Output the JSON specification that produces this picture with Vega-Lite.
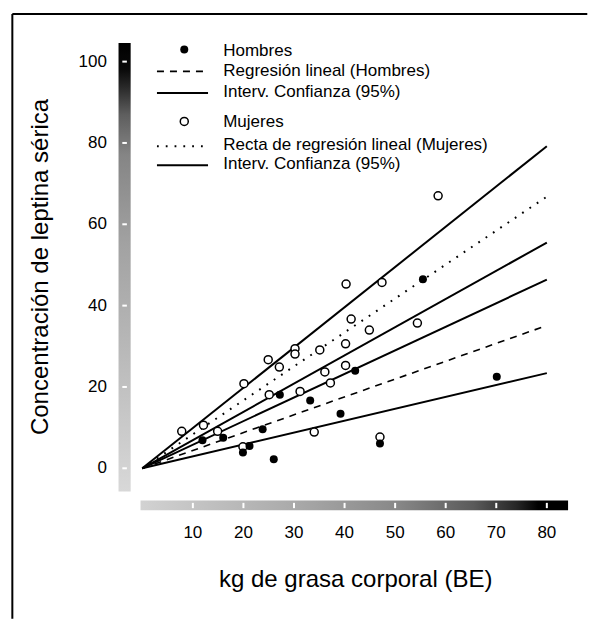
{
  "$schema": "https://vega.github.io/schema/vega-lite/v6.json",
  "width": 589,
  "height": 620,
  "autosize": {"type": "fit", "contains": "padding"},
  "padding": 0,
  "background": "white",
  "config": {"view": {"stroke": null}, "font": "Liberation Sans"},
  "datasets": {
    "pts": [
      {"sexo": "Hombres", "grasa": 11.9, "leptina": 6.9},
      {"sexo": "Hombres", "grasa": 16.0, "leptina": 7.5},
      {"sexo": "Hombres", "grasa": 19.9, "leptina": 3.9},
      {"sexo": "Hombres", "grasa": 21.2, "leptina": 5.5},
      {"sexo": "Hombres", "grasa": 23.8, "leptina": 9.6},
      {"sexo": "Hombres", "grasa": 26.0, "leptina": 2.2},
      {"sexo": "Hombres", "grasa": 27.2, "leptina": 18.1},
      {"sexo": "Hombres", "grasa": 33.2, "leptina": 16.7},
      {"sexo": "Hombres", "grasa": 39.2, "leptina": 13.4},
      {"sexo": "Hombres", "grasa": 42.1, "leptina": 24.0},
      {"sexo": "Hombres", "grasa": 47.0, "leptina": 6.1},
      {"sexo": "Hombres", "grasa": 55.5, "leptina": 46.5},
      {"sexo": "Hombres", "grasa": 70.1, "leptina": 22.5},
      {"sexo": "Mujeres", "grasa": 7.8, "leptina": 9.1},
      {"sexo": "Mujeres", "grasa": 12.1, "leptina": 10.6},
      {"sexo": "Mujeres", "grasa": 14.9, "leptina": 9.1},
      {"sexo": "Mujeres", "grasa": 19.9, "leptina": 5.3},
      {"sexo": "Mujeres", "grasa": 20.1, "leptina": 20.8},
      {"sexo": "Mujeres", "grasa": 24.9, "leptina": 26.7},
      {"sexo": "Mujeres", "grasa": 25.1, "leptina": 18.1},
      {"sexo": "Mujeres", "grasa": 27.1, "leptina": 24.9},
      {"sexo": "Mujeres", "grasa": 30.2, "leptina": 29.4},
      {"sexo": "Mujeres", "grasa": 30.2, "leptina": 28.1},
      {"sexo": "Mujeres", "grasa": 31.2, "leptina": 18.9},
      {"sexo": "Mujeres", "grasa": 34.0, "leptina": 8.9},
      {"sexo": "Mujeres", "grasa": 35.1, "leptina": 29.1},
      {"sexo": "Mujeres", "grasa": 36.1, "leptina": 23.7},
      {"sexo": "Mujeres", "grasa": 37.2, "leptina": 21.0},
      {"sexo": "Mujeres", "grasa": 40.3, "leptina": 45.3},
      {"sexo": "Mujeres", "grasa": 40.2, "leptina": 30.6},
      {"sexo": "Mujeres", "grasa": 40.2, "leptina": 25.3},
      {"sexo": "Mujeres", "grasa": 41.3, "leptina": 36.7},
      {"sexo": "Mujeres", "grasa": 44.9, "leptina": 34.0},
      {"sexo": "Mujeres", "grasa": 47.0, "leptina": 7.7},
      {"sexo": "Mujeres", "grasa": 47.4, "leptina": 45.7},
      {"sexo": "Mujeres", "grasa": 54.4, "leptina": 35.7},
      {"sexo": "Mujeres", "grasa": 58.5, "leptina": 67.0},
      {"sexo": "Hombres", "grasa": 8.3, "leptina": 103.0, "leyenda": true},
      {"sexo": "Mujeres", "grasa": 8.3, "leptina": 85.3, "leyenda": true}
    ],
    "lines": [
      {"serie": "IC Mujeres sup", "tipo": "solid", "x1": 0, "y1": 0, "x2": 80, "y2": 79.2},
      {"serie": "Regresión Mujeres", "tipo": "dotted", "x1": 0, "y1": 0, "x2": 80, "y2": 66.8},
      {"serie": "IC Mujeres inf", "tipo": "solid", "x1": 0, "y1": 0, "x2": 80, "y2": 55.5},
      {"serie": "IC Hombres sup", "tipo": "solid", "x1": 0, "y1": 0, "x2": 80, "y2": 46.4},
      {"serie": "Regresión Hombres", "tipo": "dashed", "x1": 0, "y1": 0, "x2": 80, "y2": 35.1},
      {"serie": "IC Hombres inf", "tipo": "solid", "x1": 0, "y1": 0, "x2": 80, "y2": 23.4},
      {"serie": "ley dashed", "tipo": "dashed", "x1": 2.9, "y1": 97.6, "x2": 13.0, "y2": 97.6},
      {"serie": "ley solid 1", "tipo": "solid", "x1": 2.9, "y1": 92.3, "x2": 13.0, "y2": 92.3},
      {"serie": "ley dotted", "tipo": "dotted", "x1": 2.9, "y1": 79.2, "x2": 13.0, "y2": 79.2},
      {"serie": "ley solid 2", "tipo": "solid", "x1": 2.9, "y1": 74.5, "x2": 13.0, "y2": 74.5}
    ],
    "frame": [
      {"lado": "izq", "x1": -25.7, "y1": 111.7, "x2": -25.7, "y2": -37},
      {"lado": "sup", "x1": -25.7, "y1": 111.7, "x2": 88, "y2": 111.7}
    ],
    "bars": [
      {"eje": "y", "x1": -4.7, "x2": -2.3, "y1": -5.7, "y2": 104.6},
      {"eje": "x", "x1": -0.35, "x2": 84.2, "y1": -7.9, "y2": -10.3}
    ],
    "bticks": [
      {"x1": -3.95, "x2": -3.05, "y1": 0, "y2": 0},
      {"x1": -3.95, "x2": -3.05, "y1": 20, "y2": 20},
      {"x1": -3.95, "x2": -3.05, "y1": 40, "y2": 40},
      {"x1": -3.95, "x2": -3.05, "y1": 60, "y2": 60},
      {"x1": -3.95, "x2": -3.05, "y1": 80, "y2": 80},
      {"x1": -3.95, "x2": -3.05, "y1": 100, "y2": 100},
      {"x1": 10, "x2": 10, "y1": -8.5, "y2": -9.8},
      {"x1": 20, "x2": 20, "y1": -8.5, "y2": -9.8},
      {"x1": 30, "x2": 30, "y1": -8.5, "y2": -9.8},
      {"x1": 40, "x2": 40, "y1": -8.5, "y2": -9.8},
      {"x1": 50, "x2": 50, "y1": -8.5, "y2": -9.8},
      {"x1": 60, "x2": 60, "y1": -8.5, "y2": -9.8},
      {"x1": 70, "x2": 70, "y1": -8.5, "y2": -9.8},
      {"x1": 80, "x2": 80, "y1": -8.5, "y2": -9.8}
    ],
    "ylabels": [
      {"v": 0, "t": "0"}, {"v": 20, "t": "20"}, {"v": 40, "t": "40"},
      {"v": 60, "t": "60"}, {"v": 80, "t": "80"}, {"v": 100, "t": "100"}
    ],
    "xlabels": [
      {"v": 10, "t": "10"}, {"v": 20, "t": "20"}, {"v": 30, "t": "30"}, {"v": 40, "t": "40"},
      {"v": 50, "t": "50"}, {"v": 60, "t": "60"}, {"v": 70, "t": "70"}, {"v": 80, "t": "80"}
    ],
    "legend": [
      {"x": 16.0, "y": 102.7, "t": "Hombres"},
      {"x": 16.0, "y": 97.8, "t": "Regresión lineal (Hombres)"},
      {"x": 16.0, "y": 92.6, "t": "Interv. Confianza (95%)"},
      {"x": 16.0, "y": 85.2, "t": "Mujeres"},
      {"x": 16.0, "y": 79.6, "t": "Recta de regresión lineal (Mujeres)"},
      {"x": 16.0, "y": 74.8, "t": "Interv. Confianza (95%)"}
    ],
    "titles": [
      {"x": 42.2, "y": -27.4, "t": "kg de grasa corporal (BE)", "eje": "x"},
      {"x": -20.0, "y": 49.5, "t": "Concentración de leptina sérica", "eje": "y"}
    ]
  },
  "layer": [
    {
      "data": {"name": "frame"},
      "mark": {"type": "rule", "color": "black", "strokeWidth": 2},
      "encoding": {
        "x": {"field": "x1", "type": "quantitative", "scale": {"domain": [-28.14, 87.35], "nice": false, "zero": false}, "axis": null},
        "y": {"field": "y1", "type": "quantitative", "scale": {"domain": [-36.81, 115.15], "nice": false, "zero": false}, "axis": null},
        "x2": {"field": "x2"},
        "y2": {"field": "y2"}
      }
    },
    {
      "data": {"name": "bars"},
      "transform": [{"filter": "datum.eje === 'y'"}],
      "mark": {"type": "rect", "color": {"gradient": "linear", "x1": 0, "y1": 1, "x2": 0, "y2": 0,
        "stops": [
          {"offset": 0, "color": "#d8d8d8"},
          {"offset": 0.3, "color": "#bababa"},
          {"offset": 0.55, "color": "#a2a2a2"},
          {"offset": 0.75, "color": "#858585"},
          {"offset": 0.84, "color": "#5e5e5e"},
          {"offset": 0.9, "color": "#2a2a2a"},
          {"offset": 0.94, "color": "#0a0a0a"},
          {"offset": 1, "color": "#000000"}]}},
      "encoding": {
        "x": {"field": "x1", "type": "quantitative", "scale": {"domain": [-28.14, 87.35], "nice": false, "zero": false}, "axis": null},
        "y": {"field": "y1", "type": "quantitative", "scale": {"domain": [-36.81, 115.15], "nice": false, "zero": false}, "axis": null},
        "x2": {"field": "x2"},
        "y2": {"field": "y2"}
      }
    },
    {
      "data": {"name": "bars"},
      "transform": [{"filter": "datum.eje === 'x'"}],
      "mark": {"type": "rect", "color": {"gradient": "linear", "x1": 0, "y1": 0, "x2": 1, "y2": 0,
        "stops": [
          {"offset": 0, "color": "#d2d2d2"},
          {"offset": 0.35, "color": "#ababab"},
          {"offset": 0.6, "color": "#888888"},
          {"offset": 0.78, "color": "#5a5a5a"},
          {"offset": 0.88, "color": "#262626"},
          {"offset": 0.93, "color": "#000000"},
          {"offset": 1, "color": "#000000"}]}},
      "encoding": {
        "x": {"field": "x1", "type": "quantitative", "scale": {"domain": [-28.14, 87.35], "nice": false, "zero": false}, "axis": null},
        "y": {"field": "y1", "type": "quantitative", "scale": {"domain": [-36.81, 115.15], "nice": false, "zero": false}, "axis": null},
        "x2": {"field": "x2"},
        "y2": {"field": "y2"}
      }
    },
    {
      "data": {"name": "bticks"},
      "mark": {"type": "rule", "color": "white", "strokeWidth": 2},
      "encoding": {
        "x": {"field": "x1", "type": "quantitative", "scale": {"domain": [-28.14, 87.35], "nice": false, "zero": false}, "axis": null},
        "y": {"field": "y1", "type": "quantitative", "scale": {"domain": [-36.81, 115.15], "nice": false, "zero": false}, "axis": null},
        "x2": {"field": "x2"},
        "y2": {"field": "y2"}
      }
    },
    {
      "data": {"name": "lines"},
      "transform": [{"filter": "datum.tipo === 'solid'"}],
      "mark": {"type": "rule", "color": "black", "strokeWidth": 2},
      "encoding": {
        "x": {"field": "x1", "type": "quantitative", "scale": {"domain": [-28.14, 87.35], "nice": false, "zero": false}, "axis": null},
        "y": {"field": "y1", "type": "quantitative", "scale": {"domain": [-36.81, 115.15], "nice": false, "zero": false}, "axis": null},
        "x2": {"field": "x2"},
        "y2": {"field": "y2"}
      }
    },
    {
      "data": {"name": "lines"},
      "transform": [{"filter": "datum.tipo === 'dashed'"}],
      "mark": {"type": "rule", "color": "black", "strokeWidth": 1.6, "strokeDash": [7, 6]},
      "encoding": {
        "x": {"field": "x1", "type": "quantitative", "scale": {"domain": [-28.14, 87.35], "nice": false, "zero": false}, "axis": null},
        "y": {"field": "y1", "type": "quantitative", "scale": {"domain": [-36.81, 115.15], "nice": false, "zero": false}, "axis": null},
        "x2": {"field": "x2"},
        "y2": {"field": "y2"}
      }
    },
    {
      "data": {"name": "lines"},
      "transform": [{"filter": "datum.tipo === 'dotted'"}],
      "mark": {"type": "rule", "color": "black", "strokeWidth": 2, "strokeDash": [1.8, 7], "strokeCap": "butt"},
      "encoding": {
        "x": {"field": "x1", "type": "quantitative", "scale": {"domain": [-28.14, 87.35], "nice": false, "zero": false}, "axis": null},
        "y": {"field": "y1", "type": "quantitative", "scale": {"domain": [-36.81, 115.15], "nice": false, "zero": false}, "axis": null},
        "x2": {"field": "x2"},
        "y2": {"field": "y2"}
      }
    },
    {
      "data": {"name": "pts"},
      "transform": [{"filter": "datum.sexo === 'Mujeres'"}],
      "mark": {"type": "point", "shape": "circle", "filled": true, "fill": "white", "stroke": "black", "strokeWidth": 1.5, "size": 64, "opacity": 1},
      "encoding": {
        "x": {"field": "grasa", "type": "quantitative", "scale": {"domain": [-28.14, 87.35], "nice": false, "zero": false}, "axis": null},
        "y": {"field": "leptina", "type": "quantitative", "scale": {"domain": [-36.81, 115.15], "nice": false, "zero": false}, "axis": null}
      }
    },
    {
      "data": {"name": "pts"},
      "transform": [{"filter": "datum.sexo === 'Hombres'"}],
      "mark": {"type": "point", "shape": "circle", "filled": true, "color": "black", "size": 64, "opacity": 1},
      "encoding": {
        "x": {"field": "grasa", "type": "quantitative", "scale": {"domain": [-28.14, 87.35], "nice": false, "zero": false}, "axis": null},
        "y": {"field": "leptina", "type": "quantitative", "scale": {"domain": [-36.81, 115.15], "nice": false, "zero": false}, "axis": null}
      }
    },
    {
      "data": {"name": "ylabels"},
      "mark": {"type": "text", "align": "right", "baseline": "middle", "fontSize": 17, "color": "black"},
      "encoding": {
        "x": {"datum": -7.0, "type": "quantitative", "scale": {"domain": [-28.14, 87.35], "nice": false, "zero": false}, "axis": null},
        "y": {"field": "v", "type": "quantitative", "scale": {"domain": [-36.81, 115.15], "nice": false, "zero": false}, "axis": null},
        "text": {"field": "t"}
      }
    },
    {
      "data": {"name": "xlabels"},
      "mark": {"type": "text", "align": "center", "baseline": "middle", "fontSize": 17, "color": "black"},
      "encoding": {
        "x": {"field": "v", "type": "quantitative", "scale": {"domain": [-28.14, 87.35], "nice": false, "zero": false}, "axis": null},
        "y": {"datum": -16.0, "type": "quantitative", "scale": {"domain": [-36.81, 115.15], "nice": false, "zero": false}, "axis": null},
        "text": {"field": "t"}
      }
    },
    {
      "data": {"name": "legend"},
      "mark": {"type": "text", "align": "left", "baseline": "middle", "fontSize": 17, "color": "black"},
      "encoding": {
        "x": {"field": "x", "type": "quantitative", "scale": {"domain": [-28.14, 87.35], "nice": false, "zero": false}, "axis": null},
        "y": {"field": "y", "type": "quantitative", "scale": {"domain": [-36.81, 115.15], "nice": false, "zero": false}, "axis": null},
        "text": {"field": "t"}
      }
    },
    {
      "data": {"name": "titles"},
      "transform": [{"filter": "datum.eje === 'x'"}],
      "mark": {"type": "text", "align": "center", "baseline": "middle", "fontSize": 24, "color": "black"},
      "encoding": {
        "x": {"field": "x", "type": "quantitative", "scale": {"domain": [-28.14, 87.35], "nice": false, "zero": false}, "axis": null},
        "y": {"field": "y", "type": "quantitative", "scale": {"domain": [-36.81, 115.15], "nice": false, "zero": false}, "axis": null},
        "text": {"field": "t"}
      }
    },
    {
      "data": {"name": "titles"},
      "transform": [{"filter": "datum.eje === 'y'"}],
      "mark": {"type": "text", "align": "center", "baseline": "middle", "fontSize": 24, "angle": 270, "color": "black"},
      "encoding": {
        "x": {"field": "x", "type": "quantitative", "scale": {"domain": [-28.14, 87.35], "nice": false, "zero": false}, "axis": null},
        "y": {"field": "y", "type": "quantitative", "scale": {"domain": [-36.81, 115.15], "nice": false, "zero": false}, "axis": null},
        "text": {"field": "t"}
      }
    }
  ]
}
